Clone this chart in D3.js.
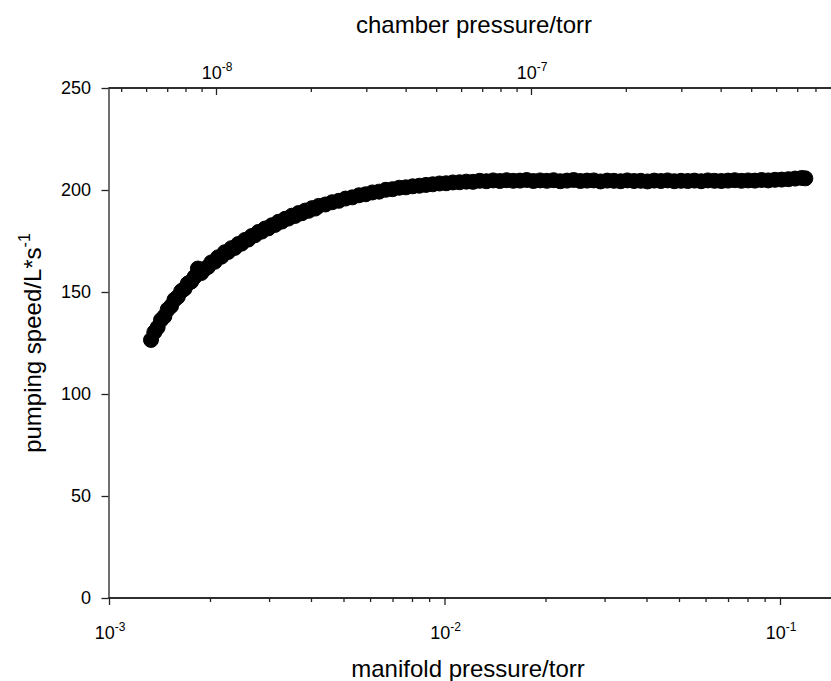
<!DOCTYPE html>
<html>
<head>
<meta charset="utf-8">
<script src="https://cdn.jsdelivr.net/npm/d3@7"></script>
<style>
  html, body { margin: 0; padding: 0; background: #fff; }
  svg { display: block; font-family: "Liberation Sans", Arial, sans-serif; }
</style>
</head>
<body>
<svg id="chart" width="831" height="681"></svg>
<script>
// ---- data ----
const manifoldPressure = [
  1.334e-3, 1.365e-3, 1.396e-3, 1.429e-3, 1.462e-3, 1.496e-3, 1.531e-3, 1.567e-3, 1.603e-3, 1.641e-3,
  1.679e-3, 1.718e-3, 1.758e-3, 1.799e-3, 1.841e-3, 1.884e-3, 1.927e-3, 1.973e-3, 2.018e-3, 2.065e-3,
  2.113e-3, 2.163e-3, 2.213e-3, 2.265e-3, 2.317e-3, 2.371e-3, 2.427e-3, 2.483e-3, 2.541e-3, 2.600e-3,
  2.661e-3, 2.723e-3, 2.786e-3, 2.851e-3, 2.917e-3, 2.985e-3, 3.055e-3, 3.126e-3, 3.199e-3, 3.273e-3,
  3.350e-3, 3.428e-3, 3.508e-3, 3.589e-3, 3.673e-3, 3.758e-3, 3.846e-3, 3.935e-3, 4.027e-3, 4.121e-3,
  4.217e-3, 4.416e-3, 4.624e-3, 4.842e-3, 5.070e-3,
  5.309e-3, 5.559e-3, 5.821e-3, 6.095e-3, 6.383e-3, 6.683e-3, 6.998e-3, 7.328e-3, 7.674e-3, 8.035e-3,
  8.414e-3, 8.810e-3, 9.226e-3, 9.661e-3, 1.0116e-2, 1.0593e-2, 1.1092e-2, 1.1614e-2, 1.2162e-2, 1.2735e-2,
  1.3335e-2, 1.3964e-2, 1.4622e-2, 1.5311e-2, 1.6032e-2, 1.6788e-2, 1.7579e-2, 1.8408e-2, 1.9275e-2, 2.0184e-2,
  2.1135e-2, 2.2131e-2, 2.3174e-2, 2.4266e-2, 2.5410e-2, 2.6607e-2, 2.7861e-2, 2.9174e-2, 3.0549e-2, 3.1989e-2,
  3.3497e-2, 3.5075e-2, 3.6728e-2, 3.8459e-2, 4.0272e-2, 4.2170e-2, 4.4157e-2, 4.6238e-2, 4.8417e-2, 5.0699e-2,
  5.3089e-2, 5.5591e-2, 5.8211e-2, 6.0954e-2, 6.3827e-2, 6.6835e-2, 6.9985e-2, 7.3283e-2, 7.6737e-2, 8.0353e-2,
  8.4140e-2, 8.8106e-2, 9.2258e-2, 9.6606e-2, 1.0116e-1, 1.0593e-1, 1.1092e-1, 1.1614e-1, 1.1900e-1
];
const pumpingSpeed = [
  126.5, 130.3, 132.6, 136.3, 138.0, 141.4, 143.1, 146.2, 147.6, 150.4,
  151.6, 154.2, 155.1, 157.4, 161.5, 159.3, 161.2, 162.3, 164.5, 164.8,
  167.0, 167.3, 169.5, 169.6, 171.5, 171.6, 173.5, 173.7, 175.5, 175.7,
  177.4, 177.8, 179.4, 179.6, 181.1, 181.2, 182.7, 182.9, 184.4, 184.5,
  185.9, 186.0, 187.4, 187.3, 188.7, 188.6, 189.9, 189.8, 191.1, 190.9,
  192.2, 192.9, 194.0, 194.7, 195.8,
  196.4, 197.4, 197.9, 198.8, 199.2, 200.1, 200.4, 201.1, 201.3, 201.8,
  202.1, 202.5, 202.8, 203.2, 203.3, 203.7, 203.8, 204.1, 204.0, 204.5,
  204.3, 204.7, 204.4, 204.8, 204.5, 204.6, 204.9, 204.4, 204.7, 204.5,
  204.8, 204.3, 204.6, 204.9, 204.4, 204.6, 204.7, 204.2, 204.6, 204.5,
  204.3, 204.7, 204.4, 204.5, 204.2, 204.6, 204.4, 204.7, 204.3, 204.5,
  204.4, 204.6, 204.3, 204.7, 204.5, 204.4, 204.6, 204.8, 204.5, 204.7,
  204.6, 204.9, 204.7, 205.0, 205.1, 205.3, 205.6, 205.9, 205.7
];
const yTicks = [0, 50, 100, 150, 200, 250];
const bottomMajorExp = [-3, -2, -1];
const topMajorExp = [-8, -7];

// ---- layout ----
const svg = d3.select("#chart");
const padL = 108.5, padR = 831, padT = 88, padB = 598;

const x = d3.scaleLog().domain([1e-3, Math.pow(10, -3 + (padR - 109) / 335.5)]).range([109, padR]);
const xTop = d3.scaleLog().domain([Math.pow(10, -8 - (216 - padL) / 315), Math.pow(10, -8 + (padR - 216) / 315)]).range([padL, padR]);
const y = d3.scaleLinear().domain([0, 250]).range([padB, padT]);

function minorTicks(scale) {
  const [d0, d1] = scale.domain();
  const out = [];
  for (let e = Math.floor(Math.log10(d0)); e <= Math.ceil(Math.log10(d1)); e++) {
    for (let m = 2; m <= 9; m++) {
      const v = m * Math.pow(10, e);
      if (v >= d0 && v <= d1) out.push(v);
    }
  }
  return out;
}

const axisColor = "#222";

// bottom axis
const gB = svg.append("g").attr("transform", `translate(0,${padB})`);
gB.call(d3.axisBottom(x).tickValues(minorTicks(x)).tickSize(4).tickSizeOuter(0).tickFormat(""));
gB.append("g").call(d3.axisBottom(x).tickValues(bottomMajorExp.map(e => Math.pow(10, e))).tickSize(7).tickSizeOuter(0).tickFormat(""));
gB.selectAll("path.domain").attr("d", `M${padL},0H${padR}`);

// top axis (ticks pointing inward)
const gT = svg.append("g").attr("transform", `translate(0,${padT})`);
gT.call(d3.axisBottom(xTop).tickValues(minorTicks(xTop)).tickSize(4).tickSizeOuter(0).tickFormat(""));
gT.append("g").call(d3.axisBottom(xTop).tickValues(topMajorExp.map(e => Math.pow(10, e))).tickSize(7).tickSizeOuter(0).tickFormat(""));
gT.selectAll("path.domain").attr("d", `M${padL},0H${padR}`);

// left axis
const gL = svg.append("g").attr("transform", `translate(${padL},0)`);
gL.call(d3.axisLeft(y).tickValues(yTicks).tickSize(7).tickSizeOuter(0).tickFormat(""));

svg.selectAll(".domain, .tick line").attr("stroke", axisColor).attr("stroke-width", 1.3);

// y tick labels
svg.append("g").selectAll("text").data(yTicks).join("text")
  .attr("x", 91).attr("y", d => y(d)).attr("dy", "0.36em")
  .attr("text-anchor", "end").attr("font-size", 18).attr("fill", "#000")
  .text(d => d);

function powLabel(g, xp, yp, exp) {
  const t = g.append("text").attr("x", xp).attr("y", yp)
    .attr("text-anchor", "middle").attr("font-size", 18).attr("fill", "#000");
  t.append("tspan").text("10");
  t.append("tspan").attr("font-size", 12).attr("dy", -8).text(exp);
}
const gLab = svg.append("g");
bottomMajorExp.forEach(e => powLabel(gLab, x(Math.pow(10, e)) + 1, 639, e));
topMajorExp.forEach(e => powLabel(gLab, xTop(Math.pow(10, e)) + 1, 79, e));

// axis titles
svg.append("text").attr("x", 474).attr("y", 33).attr("text-anchor", "middle")
  .attr("font-size", 24).attr("fill", "#000").text("chamber pressure/torr");
svg.append("text").attr("x", 468).attr("y", 677).attr("text-anchor", "middle")
  .attr("font-size", 24).attr("fill", "#000").text("manifold pressure/torr");
const yt = svg.append("text").attr("transform", "translate(41,343) rotate(-90)")
  .attr("text-anchor", "middle").attr("font-size", 24).attr("fill", "#000");
yt.append("tspan").text("pumping speed/L*s");
yt.append("tspan").attr("font-size", 16).attr("dy", -11).text("-1");

// data markers
svg.append("g").selectAll("circle").data(manifoldPressure).join("circle")
  .attr("cx", d => x(d))
  .attr("cy", (d, i) => y(pumpingSpeed[i]))
  .attr("r", 7.5)
  .attr("fill", "#000").attr("stroke", "#000").attr("stroke-width", 1);
</script>
</body>
</html>
